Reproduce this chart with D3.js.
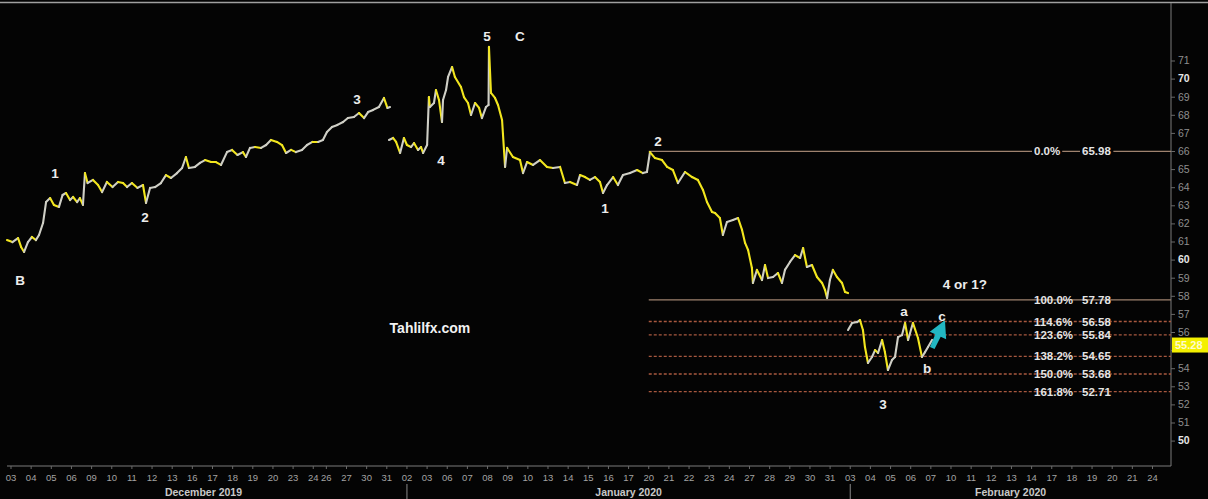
<!DOCTYPE html>
<html>
<head>
<meta charset="utf-8">
<script src="https://cdn.jsdelivr.net/npm/d3@7"></script>
<style>
  body { margin: 0; background: #000; }
  svg { display: block; font-family: "Liberation Sans", Arial, sans-serif; }
</style>
</head>
<body>
<svg id="chart" width="1208" height="499"></svg>
<script>
// DATA: trading days on the x axis
const decDays = ["03","04","05","06","09","10","11","12","13","16","17","18","19","20","23","24","26","27","30","31"];
const janDays = ["02","03","06","07","08","09","10","13","14","15","16","17","20","21","22","23","24","27","28","29","30","31"];
const febDays = ["03","04","05","06","07","10","11","12","13","14","17","18","19","20","21","24"];
const monthNames = ["December 2019", "January 2020", "February 2020"];
const shortSession = { month: 0, day: "24", length: 0.65 }; // Christmas eve half day

// DATA: price path, [session position, price]; three pieces with gaps between them
const pathDec = [
  [-0.2,61.08],[0.07,60.97],[0.35,61.19],[0.5,60.7],[0.65,60.42],[0.84,60.97],[1.04,61.25],[1.24,61.08],
  [1.39,61.36],[1.59,62.02],[1.74,63.18],[1.94,63.4],[2.13,63.02],[2.38,62.91],[2.56,63.57],[2.73,63.68],
  [2.93,63.29],[3.08,63.46],[3.28,63.18],[3.42,63.4],[3.57,63.02],[3.67,64.78],[3.8,64.23],[4.07,64.4],
  [4.32,64.12],[4.52,63.73],[4.76,64.29],[5.04,64.01],[5.31,64.29],[5.56,64.23],[5.76,64.01],[6.0,64.23],
  [6.28,63.96],[6.55,64.12],[6.7,63.13],[6.9,63.96],[7.15,64.01],[7.44,64.23],[7.69,64.67],[7.94,64.51],
  [8.24,64.78],[8.49,65.06],[8.68,65.67],[8.83,65.06],[9.13,65.12],[9.38,65.34],[9.63,65.5],[9.93,65.39],
  [10.17,65.39],[10.42,65.23],[10.72,65.94],[10.97,66.06],[11.24,65.78],[11.51,65.94],[11.66,65.67],
  [11.86,66.17],[12.11,66.22],[12.41,66.17],[12.66,66.33],[12.9,66.61],[13.2,66.5],[13.45,66.33],
  [13.65,65.89],[13.9,66.06],[14.14,65.94],[14.44,66.06],[14.69,66.33],[14.96,66.5],[15.24,66.5],
  [15.48,66.61],[15.68,67.05],[15.93,67.33],[16.2,67.44],[16.48,67.6],[16.72,67.82],[17.02,67.88],
  [17.27,68.1],[17.52,67.82],[17.72,68.15],[17.97,68.27],[18.26,68.43],[18.51,68.93],[18.68,68.38],[18.81,68.43]
];
const pathJan = [
  [18.76,66.61],[18.96,66.72],[19.11,66.5],[19.31,65.89],[19.5,66.72],[19.65,66.33],[19.85,66.22],[20.0,66.44],
  [20.2,66.06],[20.35,66.22],[20.45,65.89],[20.65,66.33],[20.74,68.98],[20.79,68.43],[20.99,68.65],[21.09,69.37],
  [21.24,68.82],[21.39,67.6],[21.44,68.82],[21.59,69.37],[21.69,70.09],[21.89,70.64],[22.03,70.09],[22.33,69.54],
  [22.48,68.98],[22.68,68.65],[22.83,67.99],[23.03,68.65],[23.23,68.38],[23.37,67.82],[23.57,68.43],[23.7,68.54],
  [23.72,71.75],[23.82,69.21],[24.02,68.93],[24.17,68.54],[24.37,67.71],[24.52,65.12],[24.62,66.17],[24.91,65.67],
  [25.26,65.5],[25.41,64.78],[25.61,65.39],[25.91,65.23],[26.25,65.5],[26.6,65.12],[26.9,65.06],[27.25,65.12],
  [27.49,64.23],[27.74,64.29],[28.09,64.12],[28.24,64.67],[28.49,64.56],[28.73,64.4],[28.98,64.56],[29.23,64.29],
  [29.38,63.68],[29.58,64.12],[29.88,64.56],[30.12,64.12],[30.37,64.67],[30.72,64.78],[31.07,64.95],[31.36,64.78],
  [31.56,64.84],[31.71,65.94],[31.96,65.61],[32.31,65.5],[32.56,65.12],[32.85,64.95],[33.1,64.23],[33.45,64.84],
  [33.8,64.56],[34.09,64.4],[34.34,63.85],[34.54,63.18],[34.79,62.63],[34.94,62.57],[35.18,62.3],[35.33,61.36],
  [35.53,62.08],[35.83,62.19],[36.08,62.3],[36.28,61.64],[36.43,60.92],[36.58,60.53],[36.77,59.54],[36.82,58.71],
  [37.02,59.43],[37.27,58.87],[37.42,59.7],[37.57,58.98],[37.82,59.04],[38.06,59.26],[38.26,58.71],[38.41,59.43],
  [38.66,59.87],[38.91,60.25],[39.16,60.09],[39.31,60.64],[39.5,59.59],[39.75,59.7],[40.0,59.04],[40.25,58.71],
  [40.4,58.32],[40.5,57.88],[40.64,58.87],[40.79,59.43],[40.99,59.04],[41.24,58.71],[41.39,58.21],[41.54,58.15]
];
const pathFeb = [
  [41.54,56.11],[41.74,56.5],[41.99,56.55],[42.13,56.66],[42.28,56.11],[42.38,55.17],[42.53,54.29],[42.73,54.62],
  [42.88,55.0],[43.03,54.84],[43.23,55.56],[43.37,54.89],[43.52,53.9],[43.72,54.45],[43.87,54.62],[44.02,55.72],
  [44.22,55.83],[44.37,56.5],[44.52,55.56],[44.76,56.5],[45.01,55.67],[45.21,54.62],[45.36,54.89],[45.51,55.17],
  [45.71,55.56]
];
const lastPrice = 55.28;

// DATA: Fibonacci levels drawn from the Jan 20 high
const fibPct = ["0.0%", "100.0%", "114.6%", "123.6%", "138.2%", "150.0%", "161.8%"];
const fibVal = [65.98, 57.78, 56.58, 55.84, 54.65, 53.68, 52.71];
const fibSolid = [true, true, false, false, false, false, false];

// DATA: wave labels [text, session position, price]
const waveLabels = [
  ["B",0.45,58.82],["1",2.18,64.78],["2",6.65,62.3],["3",17.17,68.87],["4",21.34,65.5],
  ["5",23.62,72.3],["C",25.26,72.3],["1",29.48,62.85],["2",32.11,66.55],["4 or 1?",47.34,58.6],
  ["a",44.32,57.16],["b",45.46,54.01],["c",46.2,56.83],["3",43.28,51.97]
];
const watermark = ["Tahlilfx.com", 20.79, 56.22];
const arrowFrom = [45.72, 55.12], arrowTo = [46.35, 56.65];

// SETUP
const W = 1208, H = 499;
const plotRight = 1171, plotTop = 3, plotBottom = 466;
const svg = d3.select("#chart");

svg.append("rect").attr("width", W).attr("height", H).attr("fill", "#040404");

// trading-session positions of every labelled day
const ticks = [];
let pos = 0;
[decDays, janDays, febDays].forEach((days, m) => {
  days.forEach(d => {
    ticks.push({ label: d, month: m, s: pos });
    pos += (m === shortSession.month && d === shortSession.day) ? shortSession.length : 1;
  });
});

// SCALES
const x = d3.scaleLinear().domain([0, ticks[ticks.length - 1].s]).range([11, 1152.5]);
const y = d3.scaleLinear().domain([50, 66]).range([440.6, 151]);

// FRAME
svg.append("line").attr("x1", 0).attr("x2", W).attr("y1", 2.5).attr("y2", 2.5)
  .attr("stroke", "#a0a0a0").attr("stroke-width", 1.5);
svg.append("line").attr("x1", plotRight).attr("x2", plotRight).attr("y1", plotTop).attr("y2", plotBottom)
  .attr("stroke", "#7a7a7a");
svg.append("line").attr("x1", 7).attr("x2", plotRight).attr("y1", plotBottom).attr("y2", plotBottom)
  .attr("stroke", "#7a7a7a");

// RIGHT PRICE AXIS (the label under the price tag is hidden, as on the terminal)
const yAxis = svg.append("g").attr("transform", `translate(${plotRight},0)`)
  .call(d3.axisRight(y).tickValues(d3.range(50, 72)).tickSize(4).tickPadding(3)
    .tickFormat(d => Math.abs(y(d) - y(lastPrice)) < 9 ? "" : d3.format("d")(d)));
yAxis.select(".domain").remove();
yAxis.selectAll("line").attr("stroke", "#6a6a6a");
yAxis.selectAll("text")
  .attr("fill", d => d % 10 === 0 ? "#e6e6e6" : "#8f8f8f")
  .attr("font-weight", d => d % 10 === 0 ? "bold" : "normal")
  .attr("font-size", 10.5)
  .attr("font-family", "'Liberation Sans', Arial, sans-serif");

// current price tag
svg.append("rect").attr("x", plotRight + 1).attr("y", y(lastPrice) - 7.5)
  .attr("width", W - plotRight - 1).attr("height", 15).attr("fill", "#f4f000");
svg.append("text").attr("x", plotRight + 4).attr("y", y(lastPrice) + 4)
  .attr("fill", "#fffbd0").attr("font-size", 11).attr("font-weight", "bold").text(lastPrice.toFixed(2));

// BOTTOM DATE AXIS
const xAxis = svg.append("g").attr("transform", `translate(0,${plotBottom})`);
ticks.forEach(t => {
  xAxis.append("line").attr("x1", x(t.s)).attr("x2", x(t.s)).attr("y1", 0).attr("y2", 3).attr("stroke", "#6a6a6a");
  xAxis.append("text").attr("x", x(t.s)).attr("y", 15).attr("text-anchor", "middle")
    .attr("fill", "#a3a3a3").attr("font-size", 9.5).text(t.label);
});
// month separators and names
const monthStarts = monthNames.map((m, i) => ticks.find(t => t.month === i).s);
monthNames.forEach((m, i) => {
  const left = i === 0 ? 0 : x(monthStarts[i]);
  const right = i < monthNames.length - 1 ? x(monthStarts[i + 1]) : plotRight;
  if (i > 0) {
    svg.append("line").attr("x1", left).attr("x2", left).attr("y1", 484).attr("y2", H)
      .attr("stroke", "#8a8a8a");
  }
  svg.append("text").attr("x", (left + right) / 2).attr("y", 496).attr("text-anchor", "middle")
    .attr("fill", "#c8c8c8").attr("font-size", 10.5).attr("font-weight", "bold").text(m);
});

// FIBONACCI LEVELS
const fibStart = ticks.find(t => t.month === 1 && t.label === "20").s;
const fibG = svg.append("g");
fibVal.forEach((v, i) => {
  fibG.append("line").attr("x1", x(fibStart)).attr("x2", plotRight).attr("y1", y(v)).attr("y2", y(v))
    .attr("stroke", fibSolid[i] ? "#9e826e" : "#a8583f")
    .attr("stroke-width", 1.3)
    .attr("stroke-dasharray", fibSolid[i] ? null : "3,2");
  [[fibPct[i], 1034], [v.toFixed(2), 1082]].forEach(([txt, tx]) => {
    const t = fibG.append("text").attr("x", tx).attr("y", y(v) + 4)
      .attr("fill", "#e4e4e4").attr("font-size", 11.5).attr("font-weight", "bold").text(txt);
    const bb = t.node().getBBox();
    fibG.insert("rect", "text").attr("x", bb.x - 2).attr("y", y(v) - 2).attr("width", bb.width + 4)
      .attr("height", 4).attr("fill", "#040404");
  });
});

// PRICE LINE, up moves pale grey, down moves yellow
const priceG = svg.append("g").attr("fill", "none").attr("stroke-width", 2.1)
  .attr("stroke-linejoin", "round").attr("stroke-linecap", "round");
[pathDec, pathJan, pathFeb].forEach(path => {
  d3.pairs(path).forEach(([a, b]) => {
    priceG.append("line")
      .attr("x1", x(a[0])).attr("y1", y(a[1])).attr("x2", x(b[0])).attr("y2", y(b[1]))
      .attr("stroke", b[1] > a[1] ? "#cfcfc6" : "#f2e61e");
  });
});

// cyan arrow toward wave c
const ax0 = x(arrowFrom[0]), ay0 = y(arrowFrom[1]), ax1 = x(arrowTo[0]), ay1 = y(arrowTo[1]);
const ang = Math.atan2(ay1 - ay0, ax1 - ax0);
const len = Math.hypot(ax1 - ax0, ay1 - ay0);
const arrowShape = [[0, -2.5], [len * 0.45, -3], [len * 0.45, -9], [len, 0], [len * 0.45, 9], [len * 0.45, 3], [0, 2.5]];
svg.append("polygon")
  .attr("points", arrowShape.map(p => p.join(",")).join(" "))
  .attr("transform", `translate(${ax0},${ay0}) rotate(${ang * 180 / Math.PI})`)
  .attr("fill", "#22b7c2");

// LABELS
svg.append("g").selectAll("text").data(waveLabels).join("text")
  .attr("x", d => x(d[1])).attr("y", d => y(d[2]))
  .attr("text-anchor", "middle").attr("dominant-baseline", "central")
  .attr("fill", "#ececec").attr("font-size", 13.5).attr("font-weight", "bold")
  .text(d => d[0]);

svg.append("text").attr("x", x(watermark[1])).attr("y", y(watermark[2]))
  .attr("text-anchor", "middle").attr("dominant-baseline", "central")
  .attr("fill", "#f2f2f2").attr("font-size", 14).attr("font-weight", "bold").text(watermark[0]);
</script>
</body>
</html>
